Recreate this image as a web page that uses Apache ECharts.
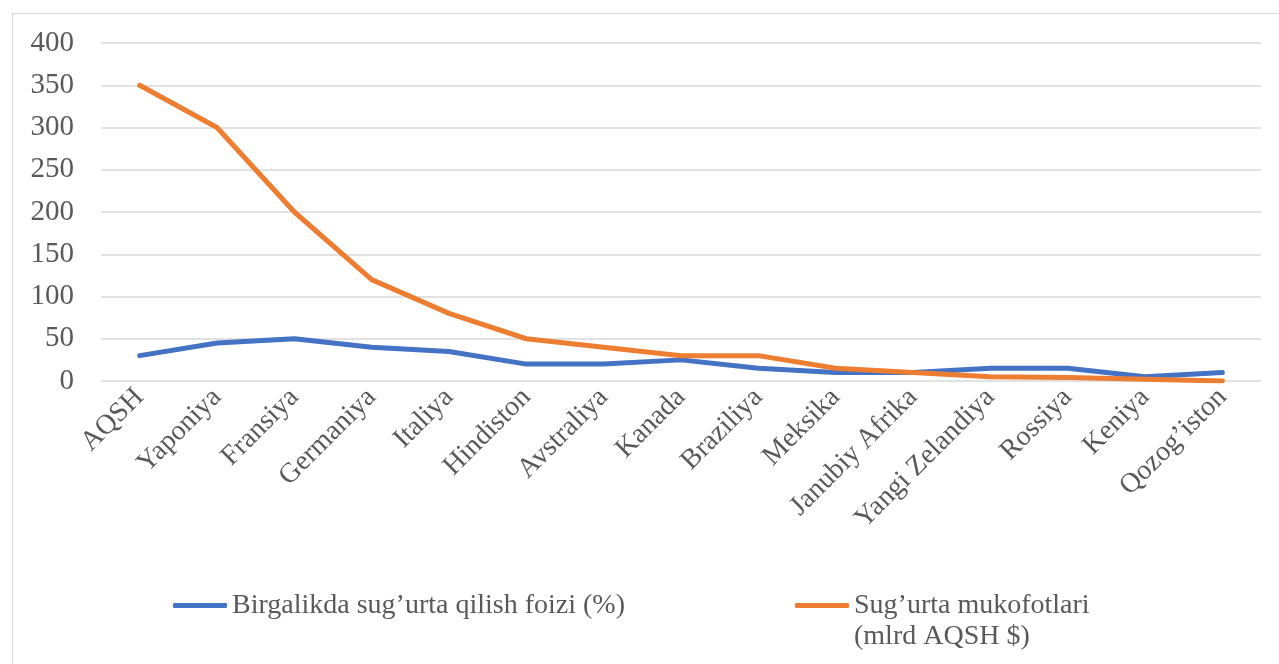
<!DOCTYPE html>
<html>
<head>
<meta charset="utf-8">
<script src="https://cdn.jsdelivr.net/npm/echarts@6/dist/echarts.min.js"></script>
<style>
  html, body { margin: 0; padding: 0; background: #fff; overflow: hidden; }
  #frame { position: absolute; left: 12px; top: 13px; width: 1400px; height: 800px; border: 1px solid #d9d9d9; }
  #chart { position: absolute; left: 0; top: 0; width: 1279px; height: 664px; }
</style>
</head>
<body>
<div id="frame"></div>
<div id="chart"></div>
<script>
const countries = ['AQSH', 'Yaponiya', 'Fransiya', 'Germaniya', 'Italiya', 'Hindiston', 'Avstraliya', 'Kanada',
  'Braziliya', 'Meksika', 'Janubiy Afrika', 'Yangi Zelandiya', 'Rossiya', 'Keniya', 'Qozog’iston'];
const coInsurance = [30, 45, 50, 40, 35, 20, 20, 25, 15, 10, 10, 15, 15, 5, 10];
const premiums = [350, 300, 200, 120, 80, 50, 40, 30, 30, 15, 10, 5, 4, 2, 0];

const blueName = 'Birgalikda sug’urta qilish foizi (%)';
const orangeName = 'Sug’urta mukofotlari (mlrd AQSH $)';

const font = '"Liberation Serif", "DejaVu Serif", serif';
const textColor = '#595959';

const myChart = echarts.init(document.getElementById('chart'));

const option = {
  animation: false,
  textStyle: { fontFamily: font },
  grid: { left: 101, right: 18, top: 43, bottom: 283, containLabel: false },
  legend: [
    {
      data: [blueName],
      left: 168,
      top: 585,
      itemWidth: 54,
      itemHeight: 5,
      icon: 'roundRect',
      textStyle: { fontFamily: font, fontSize: 28, color: textColor, lineHeight: 31 }
    },
    {
      data: [orangeName],
      left: 790,
      top: 554,
      itemWidth: 54,
      itemHeight: 5,
      icon: 'roundRect',
      // blank first line keeps the icon level with the first text line
      formatter: () => '\nSug’urta mukofotlari\n(mlrd AQSH $)',
      textStyle: { fontFamily: font, fontSize: 28, color: textColor, lineHeight: 31 }
    }
  ],
  xAxis: {
    type: 'category',
    data: countries,
    boundaryGap: true,
    axisLine: { show: false },
    axisTick: { show: false },
    axisLabel: {
      rotate: 45,
      interval: 0,
      margin: 12,
      fontFamily: font,
      fontSize: 28,
      color: textColor
    }
  },
  yAxis: {
    type: 'value',
    min: 0,
    max: 400,
    interval: 50,
    axisLine: { show: false },
    axisTick: { show: false },
    axisLabel: { margin: 27, fontFamily: font, fontSize: 29, color: textColor },
    splitLine: { lineStyle: { color: '#d9d9d9', width: 1.5 } }
  },
  series: [
    {
      name: blueName,
      type: 'line',
      data: coInsurance,
      symbol: 'none',
      lineStyle: { color: '#4472C4', width: 5, cap: 'round', join: 'round' },
      itemStyle: { color: '#4472C4' }
    },
    {
      name: orangeName,
      type: 'line',
      data: premiums,
      symbol: 'none',
      lineStyle: { color: '#ED7D31', width: 5, cap: 'round', join: 'round' },
      itemStyle: { color: '#ED7D31' }
    }
  ]
};

myChart.setOption(option);
</script>
</body>
</html>
